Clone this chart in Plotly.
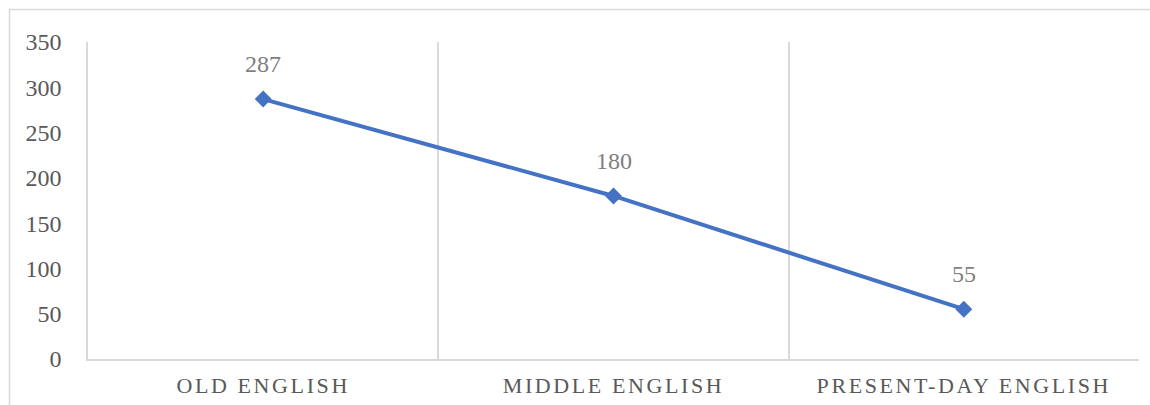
import plotly.graph_objects as go

# Word counts per period of English
periods = ["OLD ENGLISH", "MIDDLE ENGLISH", "PRESENT-DAY ENGLISH"]
counts = [287, 180, 55]
y_ticks = [0, 50, 100, 150, 200, 250, 300, 350]

SERIF = "Liberation Serif, Times New Roman, serif"
LINE_BLUE = "#4472C4"
GRID = "#d9d9d9"

W, H = 1150, 405
L, R, T, B = 88, 11, 42, 46
plot_w = W - L - R
plot_h = H - T - B

fig = go.Figure()
fig.add_trace(go.Scatter(
    x=periods,
    y=counts,
    mode="lines+markers",
    line=dict(color=LINE_BLUE, width=4),
    marker=dict(symbol="diamond", size=13, color=LINE_BLUE),
    hoverinfo="skip",
    showlegend=False,
))

# value labels above each point
for p, c in zip(periods, counts):
    fig.add_annotation(
        x=p, y=c, text=str(c), showarrow=False,
        yanchor="middle", yshift=35,
        font=dict(family=SERIF, size=24, color="#7f7f7f"),
    )

# light frame around the chart area
def px_to_paper_x(px):
    return (px - L) / plot_w

def px_to_paper_y(py):
    return (H - B - py) / plot_h

fig.add_shape(
    type="rect", xref="paper", yref="paper",
    x0=px_to_paper_x(9.5), x1=px_to_paper_x(W + 5),
    y0=px_to_paper_y(H + 5), y1=px_to_paper_y(9.5),
    line=dict(color=GRID, width=1.5), fillcolor="rgba(0,0,0,0)",
    layer="below",
)

fig.update_layout(
    width=W, height=H,
    margin=dict(l=L, r=R, t=T, b=B, pad=0),
    paper_bgcolor="white",
    plot_bgcolor="white",
    xaxis=dict(
        type="category",
        range=[-0.5, 2.5],
        tickson="boundaries",
        showgrid=True, gridcolor=GRID, gridwidth=1.5,
        showline=True, linecolor=GRID, linewidth=1.5,
        ticks="", ticklabelstandoff=6,
        tickfont=dict(family=SERIF, size=22, color="#595959"),
        zeroline=False, fixedrange=True, automargin=False,
    ),
    yaxis=dict(
        range=[0, 350],
        tickvals=y_ticks,
        showgrid=False,
        showline=True, linecolor=GRID, linewidth=1.5,
        ticks="", ticklabelstandoff=20,
        tickfont=dict(family=SERIF, size=24, color="#595959"),
        zeroline=False, fixedrange=True, automargin=False,
    ),
)

# widen letter spacing of the category labels
post = """
var gd = document.getElementById('{plot_id}');
function spaceLabels() {
  document.querySelectorAll('.xtick text').forEach(function (t) {
    t.setAttribute('letter-spacing', '2.6px');
  });
}
spaceLabels();
if (gd && gd.on) { gd.on('plotly_afterplot', spaceLabels); }
"""

fig.write_html("out.html", post_script=post, config={"displayModeBar": False})
